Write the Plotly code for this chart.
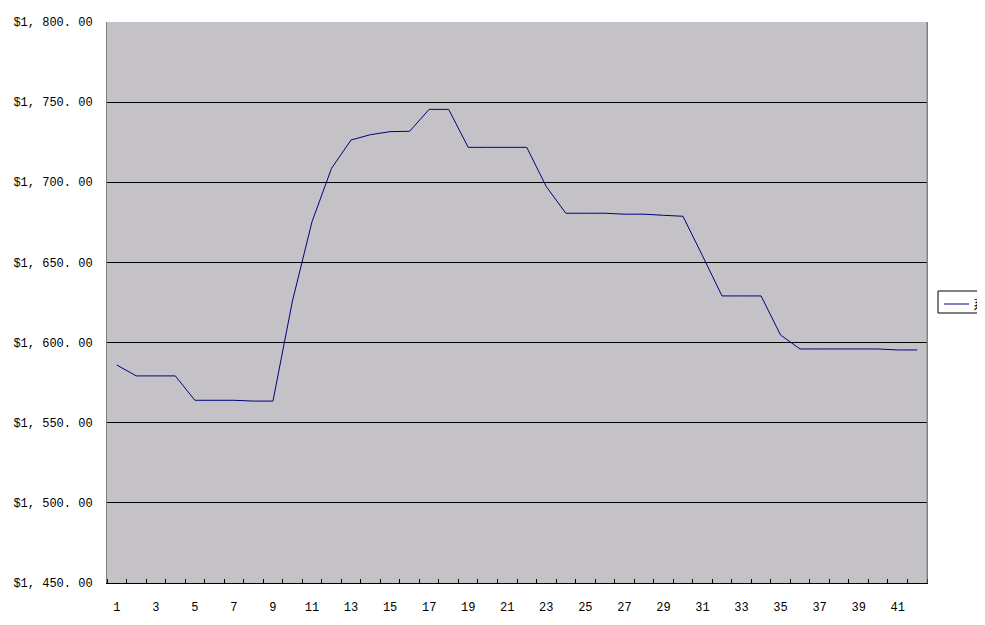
import plotly.graph_objects as go

categories = list(range(1, 43))
series_name = "系列1"
values = [1586.0, 1579.2, 1579.2, 1579.2, 1564.0, 1564.0, 1564.0, 1563.5, 1563.5, 1626.0,
          1675.4, 1708.7, 1726.4, 1729.7, 1731.6, 1731.8, 1745.5, 1745.5, 1721.8, 1721.8,
          1721.8, 1721.8, 1697.3, 1680.7, 1680.7, 1680.7, 1680.1, 1680.1, 1679.4, 1678.8,
          1654.2, 1629.1, 1629.1, 1629.1, 1604.7, 1596.0, 1596.0, 1596.0, 1596.0, 1596.0,
          1595.4, 1595.4]
y_ticks = [1450, 1500, 1550, 1600, 1650, 1700, 1750, 1800]
y_ticktext = ["$1, %s. 00" % str(v)[1:] for v in y_ticks]
x_ticks = list(range(1, 43, 2))

W, H = 977, 617
L, T, PW, PH = 99, 14, 820, 561

fig = go.Figure()
fig.add_trace(go.Scatter(x=categories, y=values, mode="lines", name=series_name,
                         line=dict(color="#000080", width=1), showlegend=False))

def px_x(p):
    return (p - L) / PW

def px_y(p):
    return 1 - (p - T) / PH

# legend box (Excel style, partly cut at right edge)
fig.add_shape(type="rect", xref="paper", yref="paper",
              x0=px_x(930), x1=px_x(1000), y0=px_y(305), y1=px_y(283),
              line=dict(color="black", width=1), fillcolor="white", layer="above")
fig.add_shape(type="line", xref="paper", yref="paper",
              x0=px_x(936), x1=px_x(961), y0=px_y(296), y1=px_y(296),
              line=dict(color="#000080", width=1), layer="above")
fig.add_annotation(text=series_name, xref="paper", yref="paper",
                   x=px_x(963), y=px_y(295), xanchor="left", yanchor="middle",
                   showarrow=False,
                   font=dict(family="Noto Sans CJK SC", size=13, color="black"))

fig.update_layout(
    width=W, height=H,
    margin=dict(l=L, r=W - L - PW, t=T, b=H - T - PH, autoexpand=False),
    paper_bgcolor="white",
    plot_bgcolor="#C4C2C6",
    showlegend=False,
    font=dict(family="Liberation Mono", size=12, color="black"),
)
fig.update_xaxes(range=[0.5, 42.5], tickmode="array", tickvals=x_ticks,
                 ticktext=[str(v) for v in x_ticks], ticks="", showgrid=False,
                 zeroline=False, showline=True, linecolor="black", linewidth=1,
                 ticklabelstandoff=13,
                 minor=dict(tickmode="linear", tick0=0.5, dtick=1, ticks="inside",
                            ticklen=4, tickcolor="black", tickwidth=1, showgrid=False))
fig.update_yaxes(range=[1450, 1800], tickmode="array", tickvals=y_ticks,
                 ticktext=y_ticktext, ticks="", showgrid=True, gridcolor="black",
                 gridwidth=1, zeroline=False, showline=True, linecolor="#808080",
                 linewidth=1, ticklabelstandoff=11, mirror=True)
fig.add_shape(type="line", xref="paper", yref="paper", x0=1, x1=1, y0=0, y1=1,
              line=dict(color="#808080", width=1))
fig.write_html("out.html")
